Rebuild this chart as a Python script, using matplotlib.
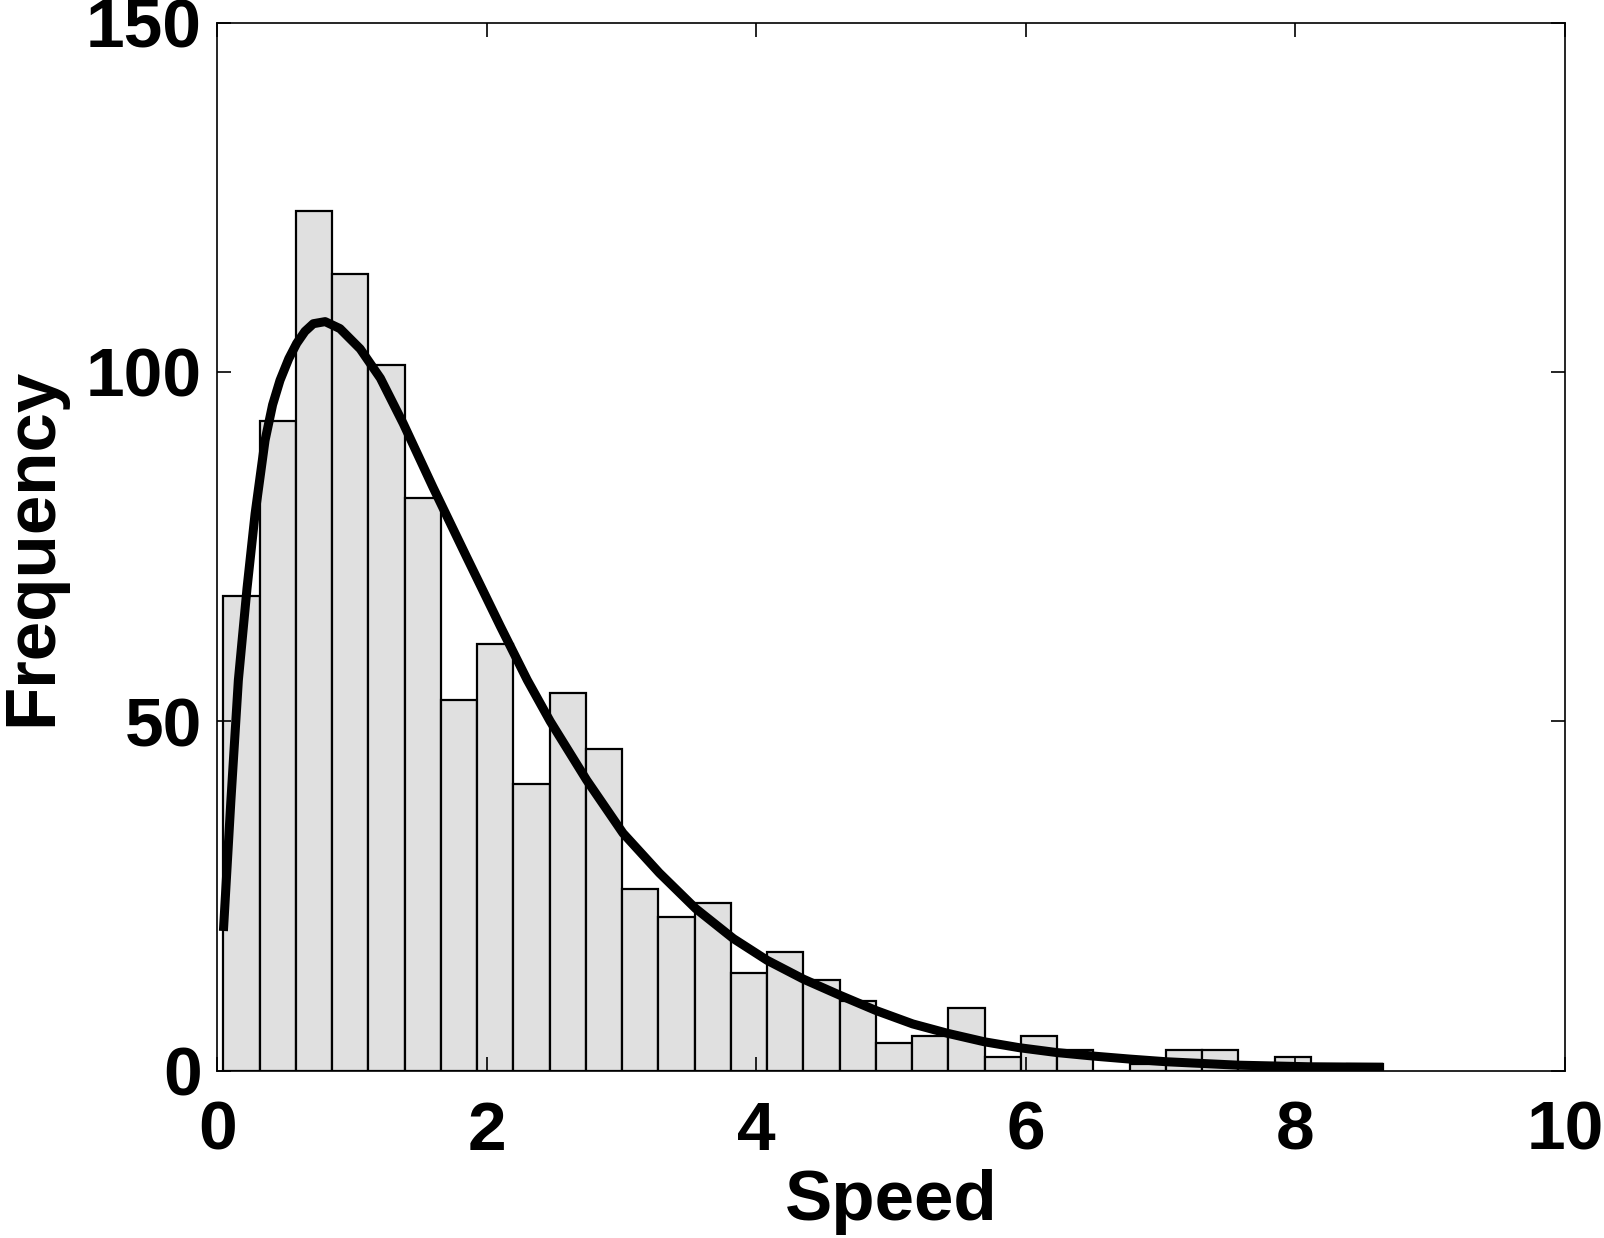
import numpy as np
import matplotlib.pyplot as plt

plt.rcParams['font.family'] = ['Liberation Sans', 'DejaVu Sans']
plt.rcParams['font.weight'] = 'bold'

# histogram bins
bin_start = 0.045
bin_width = 0.269
counts = [68, 93, 123, 114, 101, 82, 53, 61, 41, 54, 46, 26, 22, 24, 14, 17,
          13, 10, 4, 5, 9, 2, 5, 3, 0, 1, 3, 3, 1, 2, 0, 1]

# fitted curve, points
fit_x = [0.045, 0.10, 0.156, 0.22, 0.28, 0.354, 0.41, 0.465, 0.53, 0.589,
         0.65, 0.712, 0.80, 0.91, 1.06, 1.21, 1.38, 1.60, 1.85, 2.10, 2.30,
         2.47, 2.74, 3.01, 3.28, 3.55, 3.83, 4.08, 4.35, 4.62, 4.89, 5.16,
         5.42, 5.69, 5.95, 6.23, 6.50, 6.77, 7.04, 7.57, 8.10, 8.65]
fit_y = [20.0, 38.5, 55.9, 69.0, 79.7, 90.2, 95.3, 98.8, 101.9, 104.1,
         105.8, 106.9, 107.2, 106.2, 103.3, 99.1, 92.6, 83.5, 73.5, 63.6,
         55.9, 50.0, 41.6, 34.0, 28.3, 23.2, 18.9, 15.8, 13.1, 10.8, 8.6,
         6.7, 5.35, 4.15, 3.3, 2.6, 2.1, 1.67, 1.29, 0.8, 0.57, 0.5]

edges = bin_start + bin_width * np.arange(len(counts))

fig = plt.figure(figsize=(16.04, 12.38), dpi=100)
ax = fig.add_axes([0.1355, 0.1351, 0.8402, 0.8467])

ax.bar(edges, counts, width=bin_width, align='edge', color='#e0e0e0',
       edgecolor='black', linewidth=1.6)
ax.plot(fit_x, fit_y, color='black', linewidth=6.5, solid_capstyle='butt',
        solid_joinstyle='round')

ax.set_xlim(0, 10)
ax.set_ylim(0, 150)
ax.set_xticks([0, 2, 4, 6, 8, 10])
ax.set_yticks([0, 50, 100, 150])

for s in ax.spines.values():
    s.set_linewidth(1.2)
ax.tick_params(direction='in', length=10, width=1.2, top=True, right=True,
               labelsize=50)
ax.tick_params(axis='x', pad=21)
ax.tick_params(axis='y', pad=11)

ax.set_xlabel('Speed', fontsize=51, fontweight='bold', labelpad=4)
ax.set_ylabel('Frequency', fontsize=51, fontweight='bold', labelpad=14)

fig.savefig('out.png', dpi=100)
